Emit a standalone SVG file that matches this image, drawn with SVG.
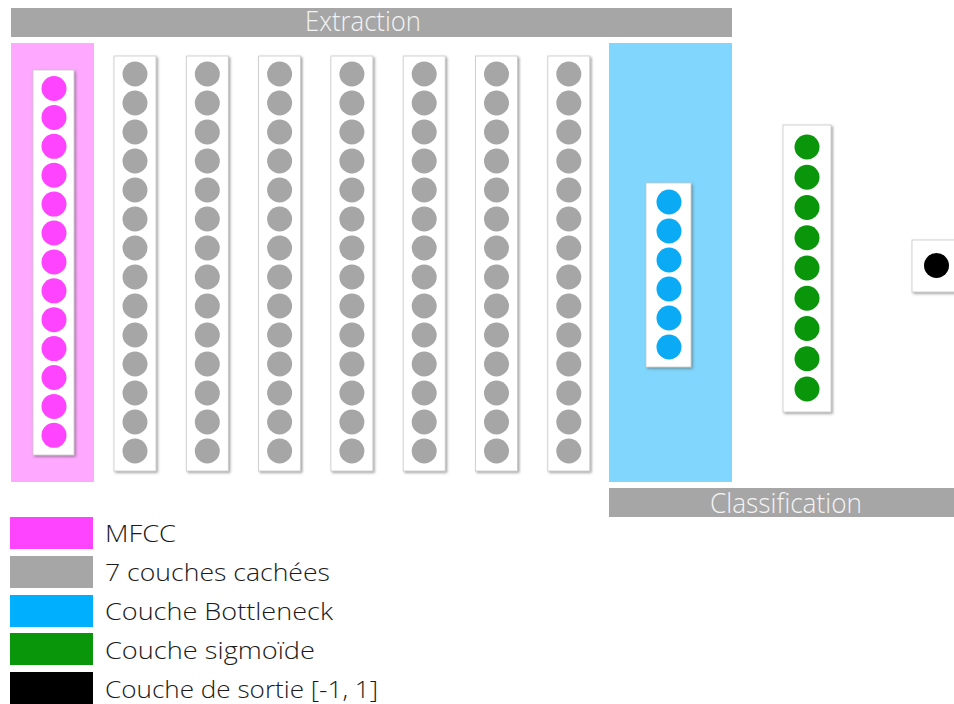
<svg xmlns="http://www.w3.org/2000/svg" width="954" height="704" viewBox="0 0 954 704">
<defs>
<filter id="sh" x="-30%" y="-10%" width="160%" height="120%">
<feDropShadow dx="1.5" dy="1.5" stdDeviation="1.2" flood-color="#555" flood-opacity="0.55"/>
</filter>
</defs>
<style>
.bar{fill:#a6a6a6}
.bartxt{font-family:"Open Sans","Liberation Sans",sans-serif;font-weight:300;font-size:28px;fill:#f4f4f4;text-anchor:middle}
.box{fill:#fff;stroke:#c8c8c8;stroke-width:0.8;filter:url(#sh)}
.pink{fill:#ff44ff}
.gray{fill:#a6a6a6}
.blue{fill:#0aaaf5}
.green{fill:#0a960a}
.black{fill:#000}
.leg{font-family:"Open Sans","Liberation Sans",sans-serif;font-weight:300;font-size:23px;fill:#1a1a1a}
</style>
<rect width="954" height="704" fill="#fff"/>

<g id="extraction-bar">
<rect class="bar" x="11" y="8" width="721" height="29"/>
<text class="bartxt" x="363" y="30.5" textLength="116" lengthAdjust="spacingAndGlyphs">Extraction</text>
</g>

<g id="mfcc-layer">
<rect x="11" y="43" width="83" height="439" fill="#ffa8ff"/>
<rect class="box" x="33" y="70" width="41" height="385"/>
<g class="pink">
<circle cx="54" cy="88.5" r="12.5"/><circle cx="54" cy="117.4" r="12.5"/><circle cx="54" cy="146.3" r="12.5"/><circle cx="54" cy="175.2" r="12.5"/><circle cx="54" cy="204.1" r="12.5"/><circle cx="54" cy="233" r="12.5"/><circle cx="54" cy="261.9" r="12.5"/><circle cx="54" cy="290.8" r="12.5"/><circle cx="54" cy="319.7" r="12.5"/><circle cx="54" cy="348.6" r="12.5"/><circle cx="54" cy="377.5" r="12.5"/><circle cx="54" cy="406.4" r="12.5"/><circle cx="54" cy="435.3" r="12.5"/>
</g>
</g>

<g id="hidden-1"><rect class="box" x="114" y="56" width="42" height="415"/>
<g class="gray"><circle cx="135" cy="74" r="12.5"/><circle cx="135" cy="103" r="12.5"/><circle cx="135" cy="132" r="12.5"/><circle cx="135" cy="161" r="12.5"/><circle cx="135" cy="190" r="12.5"/><circle cx="135" cy="219" r="12.5"/><circle cx="135" cy="248" r="12.5"/><circle cx="135" cy="277" r="12.5"/><circle cx="135" cy="306" r="12.5"/><circle cx="135" cy="335" r="12.5"/><circle cx="135" cy="364" r="12.5"/><circle cx="135" cy="393" r="12.5"/><circle cx="135" cy="422" r="12.5"/><circle cx="135" cy="451" r="12.5"/></g></g>

<g id="hidden-2"><rect class="box" x="186.3" y="56" width="42" height="415"/>
<g class="gray"><circle cx="207.3" cy="74" r="12.5"/><circle cx="207.3" cy="103" r="12.5"/><circle cx="207.3" cy="132" r="12.5"/><circle cx="207.3" cy="161" r="12.5"/><circle cx="207.3" cy="190" r="12.5"/><circle cx="207.3" cy="219" r="12.5"/><circle cx="207.3" cy="248" r="12.5"/><circle cx="207.3" cy="277" r="12.5"/><circle cx="207.3" cy="306" r="12.5"/><circle cx="207.3" cy="335" r="12.5"/><circle cx="207.3" cy="364" r="12.5"/><circle cx="207.3" cy="393" r="12.5"/><circle cx="207.3" cy="422" r="12.5"/><circle cx="207.3" cy="451" r="12.5"/></g></g>

<g id="hidden-3"><rect class="box" x="258.6" y="56" width="42" height="415"/>
<g class="gray"><circle cx="279.6" cy="74" r="12.5"/><circle cx="279.6" cy="103" r="12.5"/><circle cx="279.6" cy="132" r="12.5"/><circle cx="279.6" cy="161" r="12.5"/><circle cx="279.6" cy="190" r="12.5"/><circle cx="279.6" cy="219" r="12.5"/><circle cx="279.6" cy="248" r="12.5"/><circle cx="279.6" cy="277" r="12.5"/><circle cx="279.6" cy="306" r="12.5"/><circle cx="279.6" cy="335" r="12.5"/><circle cx="279.6" cy="364" r="12.5"/><circle cx="279.6" cy="393" r="12.5"/><circle cx="279.6" cy="422" r="12.5"/><circle cx="279.6" cy="451" r="12.5"/></g></g>

<g id="hidden-4"><rect class="box" x="330.9" y="56" width="42" height="415"/>
<g class="gray"><circle cx="351.9" cy="74" r="12.5"/><circle cx="351.9" cy="103" r="12.5"/><circle cx="351.9" cy="132" r="12.5"/><circle cx="351.9" cy="161" r="12.5"/><circle cx="351.9" cy="190" r="12.5"/><circle cx="351.9" cy="219" r="12.5"/><circle cx="351.9" cy="248" r="12.5"/><circle cx="351.9" cy="277" r="12.5"/><circle cx="351.9" cy="306" r="12.5"/><circle cx="351.9" cy="335" r="12.5"/><circle cx="351.9" cy="364" r="12.5"/><circle cx="351.9" cy="393" r="12.5"/><circle cx="351.9" cy="422" r="12.5"/><circle cx="351.9" cy="451" r="12.5"/></g></g>

<g id="hidden-5"><rect class="box" x="403.2" y="56" width="42" height="415"/>
<g class="gray"><circle cx="424.2" cy="74" r="12.5"/><circle cx="424.2" cy="103" r="12.5"/><circle cx="424.2" cy="132" r="12.5"/><circle cx="424.2" cy="161" r="12.5"/><circle cx="424.2" cy="190" r="12.5"/><circle cx="424.2" cy="219" r="12.5"/><circle cx="424.2" cy="248" r="12.5"/><circle cx="424.2" cy="277" r="12.5"/><circle cx="424.2" cy="306" r="12.5"/><circle cx="424.2" cy="335" r="12.5"/><circle cx="424.2" cy="364" r="12.5"/><circle cx="424.2" cy="393" r="12.5"/><circle cx="424.2" cy="422" r="12.5"/><circle cx="424.2" cy="451" r="12.5"/></g></g>

<g id="hidden-6"><rect class="box" x="475.5" y="56" width="42" height="415"/>
<g class="gray"><circle cx="496.5" cy="74" r="12.5"/><circle cx="496.5" cy="103" r="12.5"/><circle cx="496.5" cy="132" r="12.5"/><circle cx="496.5" cy="161" r="12.5"/><circle cx="496.5" cy="190" r="12.5"/><circle cx="496.5" cy="219" r="12.5"/><circle cx="496.5" cy="248" r="12.5"/><circle cx="496.5" cy="277" r="12.5"/><circle cx="496.5" cy="306" r="12.5"/><circle cx="496.5" cy="335" r="12.5"/><circle cx="496.5" cy="364" r="12.5"/><circle cx="496.5" cy="393" r="12.5"/><circle cx="496.5" cy="422" r="12.5"/><circle cx="496.5" cy="451" r="12.5"/></g></g>

<g id="hidden-7"><rect class="box" x="547.8" y="56" width="42" height="415"/>
<g class="gray"><circle cx="568.8" cy="74" r="12.5"/><circle cx="568.8" cy="103" r="12.5"/><circle cx="568.8" cy="132" r="12.5"/><circle cx="568.8" cy="161" r="12.5"/><circle cx="568.8" cy="190" r="12.5"/><circle cx="568.8" cy="219" r="12.5"/><circle cx="568.8" cy="248" r="12.5"/><circle cx="568.8" cy="277" r="12.5"/><circle cx="568.8" cy="306" r="12.5"/><circle cx="568.8" cy="335" r="12.5"/><circle cx="568.8" cy="364" r="12.5"/><circle cx="568.8" cy="393" r="12.5"/><circle cx="568.8" cy="422" r="12.5"/><circle cx="568.8" cy="451" r="12.5"/></g></g>

<g id="bottleneck-layer">
<rect x="609" y="43" width="123" height="439" fill="#80d6fc"/>
<rect class="box" x="646" y="183" width="45" height="184"/>
<g class="blue"><circle cx="669" cy="202" r="12.5"/><circle cx="669" cy="231" r="12.5"/><circle cx="669" cy="260" r="12.5"/><circle cx="669" cy="289" r="12.5"/><circle cx="669" cy="318" r="12.5"/><circle cx="669" cy="347" r="12.5"/></g>
</g>

<g id="sigmoid-layer">
<rect class="box" x="783" y="125" width="48" height="287"/>
<g class="green"><circle cx="807" cy="147" r="12.5"/><circle cx="807" cy="177.25" r="12.5"/><circle cx="807" cy="207.5" r="12.5"/><circle cx="807" cy="237.75" r="12.5"/><circle cx="807" cy="268" r="12.5"/><circle cx="807" cy="298.25" r="12.5"/><circle cx="807" cy="328.5" r="12.5"/><circle cx="807" cy="358.75" r="12.5"/><circle cx="807" cy="389" r="12.5"/></g>
</g>

<g id="output-layer">
<rect class="box" x="912" y="240" width="50" height="52"/>
<circle class="black" cx="936.5" cy="265.5" r="12.5"/>
</g>

<g id="classification-bar">
<rect class="bar" x="609" y="488" width="345" height="29"/>
<text class="bartxt" x="786" y="513" textLength="152" lengthAdjust="spacingAndGlyphs">Classification</text>
</g>

<g id="connectors"/>

<g id="legend">
<rect class="pink" x="10" y="517" width="83" height="32"/>
<text class="leg" x="105" y="542" textLength="71" lengthAdjust="spacingAndGlyphs">MFCC</text>
<rect class="gray" x="10" y="556" width="83" height="32"/>
<text class="leg" x="105" y="581" textLength="225" lengthAdjust="spacingAndGlyphs">7 couches cachées</text>
<rect x="10" y="595" width="83" height="32" fill="#00b0ff"/>
<text class="leg" x="105" y="620" textLength="228" lengthAdjust="spacingAndGlyphs">Couche Bottleneck</text>
<rect class="green" x="10" y="633" width="83" height="32"/>
<text class="leg" x="105" y="659" textLength="210" lengthAdjust="spacingAndGlyphs">Couche sigmoïde</text>
<rect class="black" x="10" y="672" width="83" height="32"/>
<text class="leg" x="105" y="698" textLength="273" lengthAdjust="spacingAndGlyphs">Couche de sortie [-1, 1]</text>
</g>
</svg>
